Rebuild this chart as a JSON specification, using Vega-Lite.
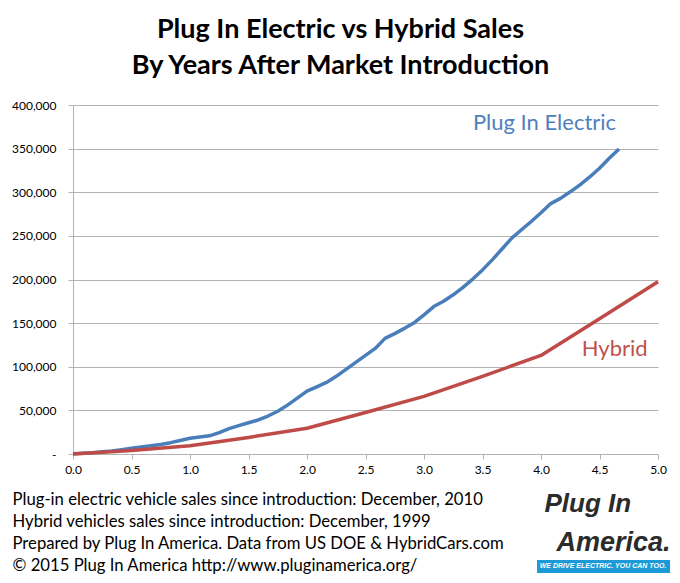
{
  "$schema": "https://vega.github.io/schema/vega-lite/v6.json",
  "autosize": "none",
  "width": 585,
  "height": 349,
  "padding": {"left": 73, "top": 105, "right": 22, "bottom": 129},
  "background": "white",
  "config": {
    "view": {"stroke": null},
    "font": "Lato",
    "axis": {"labelFont": "Lato", "titleFont": "Lato", "labelColor": "#000000", "titleColor": "#000000"}
  },
  "title": {
    "text": ["Plug In Electric vs Hybrid Sales", "By Years After Market Introduction"],
    "font": "Lato",
    "fontSize": 27,
    "fontWeight": "bold",
    "color": "#000000",
    "lineHeight": 36,
    "anchor": "middle",
    "frame": "group",
    "dx": -25,
    "offset": 19
  },
  "datasets": {
    "sales": [
      {"series": "Plug In Electric", "years": 0.0, "sales": 350},
      {"series": "Plug In Electric", "years": 0.0833, "sales": 1000},
      {"series": "Plug In Electric", "years": 0.1667, "sales": 1500},
      {"series": "Plug In Electric", "years": 0.25, "sales": 2500},
      {"series": "Plug In Electric", "years": 0.3333, "sales": 3500},
      {"series": "Plug In Electric", "years": 0.4167, "sales": 5000},
      {"series": "Plug In Electric", "years": 0.5, "sales": 6500},
      {"series": "Plug In Electric", "years": 0.5833, "sales": 8000},
      {"series": "Plug In Electric", "years": 0.6667, "sales": 9500},
      {"series": "Plug In Electric", "years": 0.75, "sales": 11000},
      {"series": "Plug In Electric", "years": 0.8333, "sales": 13000},
      {"series": "Plug In Electric", "years": 0.9167, "sales": 15500},
      {"series": "Plug In Electric", "years": 1.0, "sales": 18000},
      {"series": "Plug In Electric", "years": 1.0833, "sales": 19500},
      {"series": "Plug In Electric", "years": 1.1667, "sales": 20800},
      {"series": "Plug In Electric", "years": 1.25, "sales": 24500},
      {"series": "Plug In Electric", "years": 1.3333, "sales": 29000},
      {"series": "Plug In Electric", "years": 1.4167, "sales": 32500},
      {"series": "Plug In Electric", "years": 1.5, "sales": 35800},
      {"series": "Plug In Electric", "years": 1.5833, "sales": 39000},
      {"series": "Plug In Electric", "years": 1.6667, "sales": 43500},
      {"series": "Plug In Electric", "years": 1.75, "sales": 49000},
      {"series": "Plug In Electric", "years": 1.8333, "sales": 56000},
      {"series": "Plug In Electric", "years": 1.9167, "sales": 64000},
      {"series": "Plug In Electric", "years": 2.0, "sales": 72000},
      {"series": "Plug In Electric", "years": 2.0833, "sales": 77000},
      {"series": "Plug In Electric", "years": 2.1667, "sales": 82000},
      {"series": "Plug In Electric", "years": 2.25, "sales": 89000},
      {"series": "Plug In Electric", "years": 2.3333, "sales": 97000},
      {"series": "Plug In Electric", "years": 2.4167, "sales": 105000},
      {"series": "Plug In Electric", "years": 2.5, "sales": 113000},
      {"series": "Plug In Electric", "years": 2.5833, "sales": 121000},
      {"series": "Plug In Electric", "years": 2.6667, "sales": 132500},
      {"series": "Plug In Electric", "years": 2.75, "sales": 138000},
      {"series": "Plug In Electric", "years": 2.8333, "sales": 144000},
      {"series": "Plug In Electric", "years": 2.9167, "sales": 150500},
      {"series": "Plug In Electric", "years": 3.0, "sales": 159500},
      {"series": "Plug In Electric", "years": 3.0833, "sales": 169000},
      {"series": "Plug In Electric", "years": 3.1667, "sales": 175000},
      {"series": "Plug In Electric", "years": 3.25, "sales": 182500},
      {"series": "Plug In Electric", "years": 3.3333, "sales": 191000},
      {"series": "Plug In Electric", "years": 3.4167, "sales": 200500},
      {"series": "Plug In Electric", "years": 3.5, "sales": 211000},
      {"series": "Plug In Electric", "years": 3.5833, "sales": 222500},
      {"series": "Plug In Electric", "years": 3.6667, "sales": 235000},
      {"series": "Plug In Electric", "years": 3.75, "sales": 247500},
      {"series": "Plug In Electric", "years": 3.8333, "sales": 257000},
      {"series": "Plug In Electric", "years": 3.9167, "sales": 266500},
      {"series": "Plug In Electric", "years": 4.0, "sales": 276500},
      {"series": "Plug In Electric", "years": 4.0833, "sales": 287000},
      {"series": "Plug In Electric", "years": 4.1667, "sales": 293000},
      {"series": "Plug In Electric", "years": 4.25, "sales": 300500},
      {"series": "Plug In Electric", "years": 4.3333, "sales": 308500},
      {"series": "Plug In Electric", "years": 4.4167, "sales": 317500},
      {"series": "Plug In Electric", "years": 4.5, "sales": 327500},
      {"series": "Plug In Electric", "years": 4.5833, "sales": 339000},
      {"series": "Plug In Electric", "years": 4.6667, "sales": 349500},
      {"series": "Hybrid", "years": 0.0, "sales": 0},
      {"series": "Hybrid", "years": 0.5, "sales": 4000},
      {"series": "Hybrid", "years": 1.0, "sales": 9400},
      {"series": "Hybrid", "years": 1.5, "sales": 19000},
      {"series": "Hybrid", "years": 2.0, "sales": 29500},
      {"series": "Hybrid", "years": 2.5, "sales": 47500},
      {"series": "Hybrid", "years": 3.0, "sales": 66000},
      {"series": "Hybrid", "years": 3.5, "sales": 89000},
      {"series": "Hybrid", "years": 4.0, "sales": 113000},
      {"series": "Hybrid", "years": 4.5, "sales": 155000},
      {"series": "Hybrid", "years": 5.0, "sales": 197500}
    ],
    "one": [{}]
  },
  "layer": [
    {
      "data": {"name": "sales"},
      "mark": {"type": "line", "strokeWidth": 3.5, "strokeCap": "butt", "strokeJoin": "round"},
      "encoding": {
        "x": {
          "field": "years", "type": "quantitative",
          "scale": {"domain": [0, 5], "nice": false, "zero": false},
          "axis": {
            "values": [0, 0.5, 1, 1.5, 2, 2.5, 3, 3.5, 4, 4.5, 5],
            "format": ".1f",
            "grid": false,
            "labelFlush": false,
            "domainColor": "#b3b3b3",
            "domainWidth": 1,
            "tickColor": "#b3b3b3",
            "tickSize": 5,
            "labelFontSize": 12,
            "labelPadding": 5,
            "title": [
              "Plug-in electric vehicle sales since introduction: December, 2010",
              "Hybrid vehicles sales since introduction: December, 1999",
              "Prepared by Plug In America. Data from US DOE & HybridCars.com",
              "\u00a9 2015 Plug In America http://www.pluginamerica.org/"
            ],
            "titleFontSize": 16.7,
            "titleFontWeight": "normal",
            "titleLineHeight": 22,
            "titleAnchor": "start",
            "titleAlign": "left",
            "titleX": -61,
            "titlePadding": 16
          }
        },
        "y": {
          "field": "sales", "type": "quantitative",
          "scale": {"domain": [0, 400000], "nice": false},
          "axis": {
            "values": [0, 50000, 100000, 150000, 200000, 250000, 300000, 350000, 400000],
            "labelExpr": "datum.value == 0 ? '-' : format(datum.value, ',')",
            "labelFlush": false,
            "grid": true,
            "gridColor": "#b3b3b3",
            "gridWidth": 1,
            "domainColor": "#b3b3b3",
            "tickColor": "#b3b3b3",
            "tickSize": 5,
            "labelFontSize": 12,
            "labelPadding": 12,
            "title": null
          }
        },
        "color": {
          "field": "series", "type": "nominal",
          "scale": {"domain": ["Plug In Electric", "Hybrid"], "range": ["#4a7ebb", "#be4b48"]},
          "legend": null
        }
      }
    },
    {
      "data": {"name": "one"},
      "mark": {"type": "text", "text": "Plug In Electric", "fontSize": 22, "color": "#4f81bd", "font": "Lato", "clip": false},
      "encoding": {"x": {"datum": 4.03, "type": "quantitative"}, "y": {"datum": 379000, "type": "quantitative"}}
    },
    {
      "data": {"name": "one"},
      "mark": {"type": "text", "text": "Hybrid", "fontSize": 22, "color": "#c0504d", "font": "Lato", "clip": false},
      "encoding": {"x": {"datum": 4.63, "type": "quantitative"}, "y": {"datum": 119800, "type": "quantitative"}}
    },
    {
      "data": {"name": "one"},
      "mark": {"type": "text", "text": "Plug In", "fontSize": 26, "fontWeight": "bold", "fontStyle": "italic", "baseline": "alphabetic", "color": "#2b2b2b", "font": "Liberation Sans", "clip": false},
      "encoding": {"x": {"datum": 4.40, "type": "quantitative"}, "y": {"datum": -66500, "type": "quantitative"}}
    },
    {
      "data": {"name": "one"},
      "mark": {"type": "text", "text": "America.", "fontSize": 27, "fontWeight": "bold", "fontStyle": "italic", "baseline": "alphabetic", "color": "#2b2b2b", "font": "Liberation Sans", "clip": false},
      "encoding": {"x": {"datum": 4.62, "type": "quantitative"}, "y": {"datum": -111200, "type": "quantitative"}}
    },
    {
      "data": {"name": "one"},
      "mark": {"type": "rect", "color": "#1b9ad6", "clip": false},
      "encoding": {
        "x": {"datum": 3.966, "type": "quantitative"}, "x2": {"datum": 5.103},
        "y": {"datum": -121500, "type": "quantitative"}, "y2": {"datum": -136400}
      }
    },
    {
      "data": {"name": "one"},
      "mark": {"type": "text", "text": "WE DRIVE ELECTRIC. YOU CAN TOO.", "fontSize": 7, "fontWeight": "bold", "fontStyle": "italic", "color": "#ffffff", "font": "Liberation Sans", "clip": false},
      "encoding": {"x": {"datum": 4.53, "type": "quantitative"}, "y": {"datum": -128900, "type": "quantitative"}}
    }
  ]
}
